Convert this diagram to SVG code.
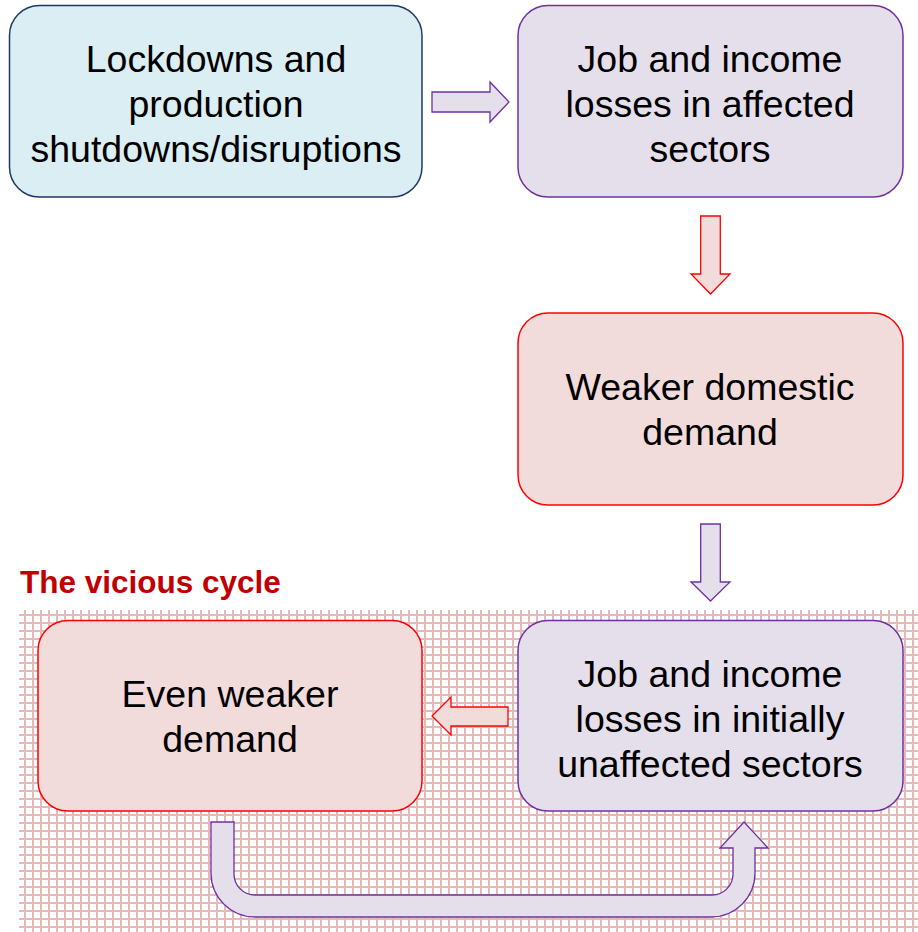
<svg xmlns="http://www.w3.org/2000/svg" width="918" height="932" viewBox="0 0 918 932">
<defs>
<pattern id="grid" patternUnits="userSpaceOnUse" x="0" y="0" width="8" height="8">
<rect x="0" y="0" width="2" height="8" fill="#e6b8b7"/>
<rect x="0" y="6" width="8" height="2" fill="#e6b8b7"/>
</pattern>
<style>
.t{font-family:"Liberation Sans",Arial,sans-serif;font-size:37.5px;fill:#000;text-anchor:middle}
.blue{fill:#daeef3;stroke:#1f3864;stroke-width:1.5}
.purple{fill:#e5dfec;stroke:#7030a0;stroke-width:1.5}
.red{fill:#f2dcdb;stroke:#ff0000;stroke-width:1.5}
.ap{fill:#e5dfec;stroke:#7030a0;stroke-width:1.3}
.ar{fill:#f2dcdb;stroke:#ff0000;stroke-width:1.3}
</style>
</defs>
<rect x="19" y="610" width="899" height="322" fill="url(#grid)"/>
<text x="20" y="593" font-family="'Liberation Sans',Arial,sans-serif" font-size="31.5" font-weight="bold" fill="#c00000">The vicious cycle</text>
<g id="n1">
<rect class="blue" x="9.5" y="5.5" width="412.5" height="191.5" rx="30"/>
<text class="t" x="216" y="72">Lockdowns and</text>
<text class="t" x="216" y="117">production</text>
<text class="t" x="216" y="162">shutdowns/disruptions</text>
</g>
<g id="n2">
<rect class="purple" x="518" y="5.5" width="385" height="191.5" rx="30"/>
<text class="t" x="710" y="72">Job and income</text>
<text class="t" x="710" y="117">losses in affected</text>
<text class="t" x="710" y="162">sectors</text>
</g>
<g id="n3">
<rect class="red" x="518" y="313" width="385" height="192" rx="30"/>
<text class="t" x="710" y="400">Weaker domestic</text>
<text class="t" x="710" y="445">demand</text>
</g>
<g id="n4">
<rect class="red" x="38" y="620.5" width="384" height="190.5" rx="30"/>
<text class="t" x="230" y="707">Even weaker</text>
<text class="t" x="230" y="752">demand</text>
</g>
<g id="n5">
<rect class="purple" x="518" y="620.5" width="385" height="190.5" rx="30"/>
<text class="t" x="710" y="687">Job and income</text>
<text class="t" x="710" y="732">losses in initially</text>
<text class="t" x="710" y="777">unaffected sectors</text>
</g>
<g id="connectors">
<path class="ap" d="M432,92 L490,92 L490,82 L509,102 L490,122 L490,112 L432,112 Z"/>
<path class="ar" d="M700.7,216 L720.3,216 L720.3,274 L730,274 L710.5,294 L691,274 L700.7,274 Z"/>
<path class="ap" d="M700.7,524 L720.3,524 L720.3,582 L730,582 L710.5,601 L691,582 L700.7,582 Z"/>
<path class="ar" d="M508,707 L451,707 L451,697 L432,716 L451,735 L451,726 L508,726 Z"/>
<path class="ap" d="M211,822 L234,822 L234,874 A21,21 0 0 0 255,895 L712,895 A21,21 0 0 0 733,874 L733,848 L720,848 L744,822 L768,848 L755,848 L755,873 A44,44 0 0 1 711,917 L255,917 A44,44 0 0 1 211,873 Z"/>
</g>
</svg>
